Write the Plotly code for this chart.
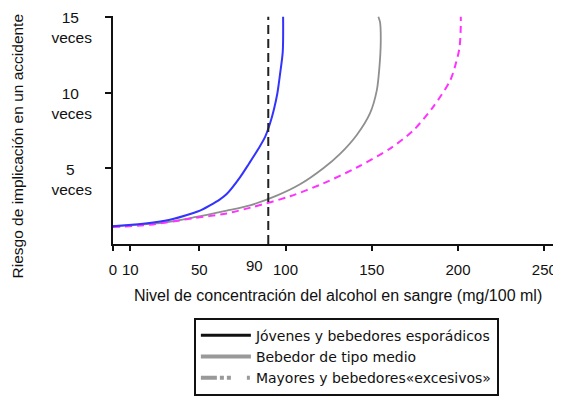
import plotly.graph_objects as go

# ---- data (x in mg/100 ml, y in "veces") ----
young_x = [0, 17.4, 33.0, 46.6, 50.4, 56.2, 62.0, 65.9, 73.6, 78.8, 84.1, 88.1, 91.0, 93.3, 95.2, 96.8, 98.4, 98.6]
young_y = [1.17, 1.33, 1.6, 2.05, 2.2, 2.55, 2.95, 3.3, 4.4, 5.3, 6.25, 7.05, 7.95, 8.9, 9.9, 11.2, 12.7, 15.0]

medium_x = [0, 27.2, 46.6, 65.9, 79.4, 94.9, 108.4, 121.9, 131.6, 141.3, 149.0, 152.9, 154.4, 155.2, 154.8, 153.8]
medium_y = [1.19, 1.38, 1.75, 2.2, 2.55, 3.19, 3.94, 5.0, 5.95, 7.2, 8.64, 10.14, 11.63, 13.35, 14.63, 15.0]

older_x = [0, 21.4, 46.6, 65.9, 81.3, 102.6, 121.9, 141.3, 160.6, 174.1, 185.7, 195.4, 198.3, 200.8, 201.6, 201.6]
older_y = [1.12, 1.27, 1.70, 2.02, 2.45, 3.15, 4.0, 5.05, 6.3, 7.5, 9.07, 10.78, 11.74, 12.92, 14.41, 15.0]

limit_value = 90
limit_x = [limit_value, limit_value]
limit_y = [0, 15]

x_tickvals = [0, 10, 50, 90, 100, 150, 200, 250]
x_ticktext = ["0", "10", "50", "90", "100", "150", "200", "250"]
y_tickvals = [5, 10, 15]
y_ticktext = ["5&nbsp;&nbsp;&nbsp;&nbsp;<br>veces",
              "10&nbsp;&nbsp;&nbsp;<br>veces",
              "15&nbsp;&nbsp;&nbsp;<br>veces"]

legend_names = ["Jóvenes y bebedores esporádicos",
                "Bebedor de tipo medio",
                "Mayores y bebedores«excesivos»"]

FONT = "Liberation Sans, Arial, sans-serif"
LEGEND_FONT = "DejaVu Sans, Liberation Sans, Arial, sans-serif"
INK = "#111111"
X_RANGE = [0, 256.2]

main_vals = [v for v in x_tickvals if v != limit_value]
main_text = [t for v, t in zip(x_tickvals, x_ticktext) if v != limit_value]
lim_text = [t for v, t in zip(x_tickvals, x_ticktext) if v == limit_value]

fig = go.Figure()

fig.add_trace(go.Scatter(x=limit_x, y=limit_y, mode="lines", xaxis="x2",
                         line=dict(color="#222222", width=2, dash="9px,5px"),
                         showlegend=False, hoverinfo="skip"))
fig.add_trace(go.Scatter(x=medium_x, y=medium_y, mode="lines",
                         line=dict(color="#8f8f8f", width=1.8, shape="spline", smoothing=0.8),
                         showlegend=False))
fig.add_trace(go.Scatter(x=older_x, y=older_y, mode="lines",
                         line=dict(color="#ff33ff", width=2, dash="7px,5px", shape="spline", smoothing=0.8),
                         showlegend=False))
fig.add_trace(go.Scatter(x=young_x, y=young_y, mode="lines",
                         line=dict(color="#3333ff", width=2, shape="spline", smoothing=0.8),
                         showlegend=False))

# legend entries (styled as in the reference's legend box)
fig.add_trace(go.Scatter(x=[None], y=[None], mode="lines", name=legend_names[0],
                         line=dict(color=INK, width=3)))
fig.add_trace(go.Scatter(x=[None], y=[None], mode="lines", name=legend_names[1],
                         line=dict(color="#999999", width=4)))
fig.add_trace(go.Scatter(x=[None], y=[None], mode="lines", name=legend_names[2],
                         line=dict(color="#999999", width=4, dash="16px,3px,4px,3px,4px")))

# the page has an 8px body margin, so the figure is 8px smaller and margins are offset
fig.update_layout(
    width=553, height=393,
    margin=dict(l=105, r=6, t=8, b=149),
    paper_bgcolor="white", plot_bgcolor="white",
    font=dict(family=FONT, size=16, color=INK),
    showlegend=True,
    legend=dict(x=0.183, y=-0.494, xanchor="left", yanchor="middle",
                bordercolor=INK, borderwidth=2,
                font=dict(size=14, family=LEGEND_FONT, color=INK),
                tracegroupgap=0, itemwidth=50),
    xaxis=dict(range=X_RANGE, showgrid=False, zeroline=False, automargin=False,
               showline=True, linecolor=INK, linewidth=2,
               ticks="outside", ticklen=5, tickwidth=2, tickcolor=INK,
               tickvals=main_vals, ticktext=main_text, tickangle=0,
               ticklabelstandoff=6,
               tickfont=dict(size=15, family=FONT, color=INK)),
    xaxis2=dict(range=X_RANGE, overlaying="x", anchor="y", side="bottom",
                showgrid=False, zeroline=False, automargin=False, showline=False,
                ticks="", tickvals=[limit_value], ticktext=lim_text, tickangle=0,
                ticklabelshift=-14, ticklabelstandoff=11,
                tickfont=dict(size=15, family=FONT, color=INK)),
    yaxis=dict(range=[0, 15.05], showgrid=False, zeroline=False, automargin=False,
               showline=True, linecolor=INK, linewidth=2,
               ticks="outside", ticklen=6, tickwidth=2, tickcolor=INK,
               tickvals=y_tickvals, ticktext=y_ticktext,
               ticklabelshift=11, ticklabelstandoff=10,
               tickfont=dict(size=15.5, family=FONT, color=INK)),
    annotations=[
        dict(text="Riesgo de implicación en un accidente", xref="paper", yref="paper",
             x=-0.215, y=0.432, xanchor="center", yanchor="middle",
             textangle=-90, showarrow=False,
             font=dict(size=15.5, family=FONT, color=INK)),
        dict(text="Nivel de concentración del alcohol en sangre (mg/100 ml)",
             xref="paper", yref="paper", x=0.509, y=-0.224,
             xanchor="center", yanchor="middle", showarrow=False,
             font=dict(size=16, family=FONT, color=INK)),
    ],
)

fig.write_html("out.html")
